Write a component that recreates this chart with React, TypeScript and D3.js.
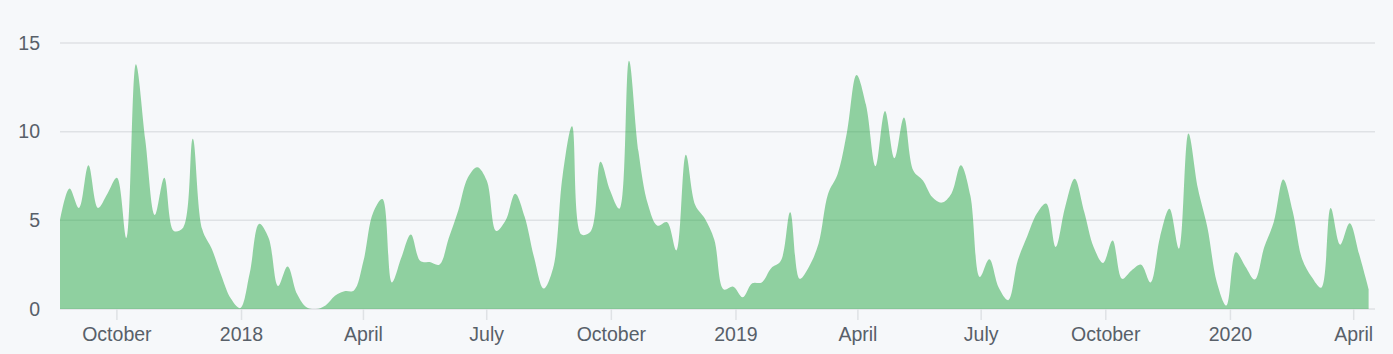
import { useEffect, useRef } from 'react'
import * as d3 from 'd3'

// weekly commits, first week starts Sunday 2017-08-20
const firstWeek = new Date(2017, 7, 20)
const commits = [
  5.0, 6.8, 5.7, 8.1, 5.7, 6.5, 7.4, 4.0, 13.8, 9.5,
  5.3, 7.4, 4.4, 4.6, 9.6, 4.5, 3.4, 1.9, 0.6, 0.05,
  2.0, 4.8, 4.0, 1.3, 2.4, 0.85, 0.1, 0, 0.2, 0.75,
  1.0, 1.05, 2.7, 5.4, 6.2, 1.5, 2.9, 4.2, 2.7, 2.65,
  2.5, 4.0, 5.55, 7.4, 8.0, 7.25, 4.4, 5.0, 6.5, 5.2,
  2.9, 1.15, 2.3, 7.5, 10.3, 4.2, 4.4, 8.3, 6.7, 5.65,
  14.0, 8.9, 5.9, 4.7, 4.9, 3.3, 8.7, 5.85, 5.1, 3.9,
  1.1, 1.26, 0.66, 1.45, 1.5, 2.3, 2.7, 5.46, 1.7, 2.4,
  3.7, 6.5, 7.6, 10.0, 13.2, 11.5, 8.05, 11.17, 8.5, 10.8,
  7.8, 7.25, 6.3, 6.0, 6.5, 8.1, 6.4, 1.8, 2.8, 1.2,
  0.5, 2.73, 4.1, 5.37, 5.95, 3.5, 5.75, 7.34, 5.5, 3.5,
  2.6, 3.86, 1.7, 2.17, 2.5, 1.5, 4.05, 5.65, 3.4, 9.9,
  6.8, 4.6, 1.5, 0.2, 3.2, 2.4, 1.66, 3.5, 4.9, 7.3,
  5.5, 2.8, 1.8, 1.2, 5.69, 3.63, 4.84, 3.1, 1.13,
]
const yTicks = [0, 5, 10, 15]

const W = 1393
const H = 354

export default function App() {
  const ref = useRef<SVGSVGElement>(null)

  useEffect(() => {
    document.body.style.margin = '0'
    document.body.style.background = '#f6f8fa'

    const data = commits.map((v, i) => ({ date: d3.timeWeek.offset(firstWeek, i), value: v }))

    const x = d3.scaleTime()
      .domain(d3.extent(data, d => d.date) as [Date, Date])
      .range([60, 1368.6])
    const y = d3.scaleLinear().domain([0, 15]).range([309, 43])

    const svg = d3.select(ref.current)
    svg.selectAll('*').remove()

    svg.append('rect').attr('width', W).attr('height', H).attr('fill', '#f6f8fa')

    // keep the smoothed curve from dipping under the baseline
    svg.append('clipPath')
      .attr('id', 'plot-clip')
      .append('rect')
      .attr('x', 60)
      .attr('y', 0)
      .attr('width', 1320)
      .attr('height', y(0))

    // horizontal grid
    svg.append('g')
      .selectAll('line')
      .data(yTicks)
      .join('line')
      .attr('x1', 60)
      .attr('x2', 1375)
      .attr('y1', d => y(d))
      .attr('y2', d => y(d))
      .attr('stroke', '#dfe2e5')
      .attr('stroke-width', 1.5)

    svg.append('g')
      .selectAll('text')
      .data(yTicks)
      .join('text')
      .attr('x', 40)
      .attr('y', d => y(d))
      .attr('dy', '0.35em')
      .attr('text-anchor', 'end')
      .attr('fill', '#586069')
      .style('font', '19.5px "Liberation Sans", Arial, sans-serif')
      .text(d => d)

    // x axis ticks, every 3 months
    const ticks = x.ticks(d3.timeMonth.every(3) as d3.TimeInterval)
    const fmt = (d: Date) => (d.getMonth() === 0 ? d3.timeFormat('%Y')(d) : d3.timeFormat('%B')(d))
    const xg = svg.append('g')
    xg.selectAll('line')
      .data(ticks)
      .join('line')
      .attr('x1', d => x(d))
      .attr('x2', d => x(d))
      .attr('y1', 309)
      .attr('y2', 320)
      .attr('stroke', '#dfe2e5')
      .attr('stroke-width', 1.5)
    xg.selectAll('text')
      .data(ticks)
      .join('text')
      .attr('x', d => x(d))
      .attr('y', 341)
      .attr('text-anchor', 'middle')
      .attr('fill', '#586069')
      .style('font', '19.5px "Liberation Sans", Arial, sans-serif')
      .text(fmt)

    const area = d3.area<{ date: Date; value: number }>()
      .x(d => x(d.date))
      .y0(y(0))
      .y1(d => y(d.value))
      .curve(d3.curveCatmullRom.alpha(0.5))

    svg.append('path')
      .datum(data)
      .attr('d', area)
      .attr('clip-path', 'url(#plot-clip)')
      .attr('fill', '#28a745')
      .attr('fill-opacity', 0.5)
  }, [])

  return <svg ref={ref} width={W} height={H} style={{ display: 'block' }} />
}
